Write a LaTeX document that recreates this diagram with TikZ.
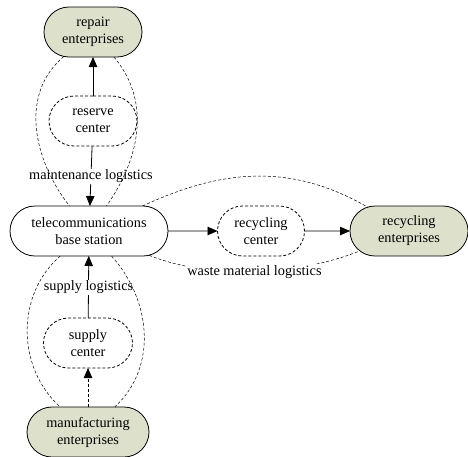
\documentclass[tikz,border=0pt]{standalone}
\usepackage{fontspec}
\setmainfont{Liberation Serif}
\usepackage{tkz-graph}
\usetikzlibrary{shapes.misc,arrows.meta}
\definecolor{entfill}{RGB}{221,224,203}

\begin{document}
\begin{tikzpicture}[x=1pt,y=1pt]
\useasboundingbox (0,0) rectangle (468,-456);
\GraphInit[vstyle=Empty]
\tikzset{VertexStyle/.style ={rounded rectangle, draw, line width=.8pt,
  inner xsep=0pt, inner ysep=0pt, minimum height=50pt, align=center,
  font=\fontsize{14.3}{17}\selectfont}}
\tikzset{CenterStyle/.style ={line width=.5pt, dash pattern=on 3pt off 2pt}}
\Vertex[x=93, y=-32, L={repair\\enterprises}, style={fill=entfill, minimum width=98pt}]{repair}
\Vertex[x=93, y=-121, L={reserve\\center}, style={CenterStyle, minimum width=88pt}]{reserve}
\Vertex[x=89, y=-231, L={telecommunications\\base station}, style={minimum width=158pt, minimum height=60pt}]{telecom}
\Vertex[x=261, y=-231, L={recycling\\center}, style={CenterStyle, minimum width=87pt}]{rcenter}
\Vertex[x=409, y=-231, L={recycling\\enterprises}, style={fill=entfill, minimum width=118pt}]{renter}
\Vertex[x=88, y=-343, L={supply\\center}, style={CenterStyle, minimum width=89pt}]{supply}
\Vertex[x=88, y=-432, L={manufacturing\\enterprises}, style={fill=entfill, minimum width=122pt}]{manuf}
\tikzset{EdgeStyle/.style ={draw, line width=.8pt, -{Triangle[length=10pt,width=8.5pt]}}}
\tikzset{LabelStyle/.style ={fill=white, inner sep=1pt, font=\fontsize{14.3}{17}\selectfont}}
\Edge(reserve)(repair)
\Edge[label=maintenance logistics](reserve)(telecom)
\Edge[label=supply logistics](supply)(telecom)
\Edge(telecom)(rcenter)
\Edge(rcenter)(renter)
\Edge[style={dash pattern=on 3pt off 2pt}](manuf)(supply)
\tikzset{EdgeStyle/.style ={draw, line width=.5pt, dash pattern=on 3pt off 2pt}}
\Edge[style={out=-140, in=128}](repair)(telecom)
\Edge[style={out=-50, in=55}](repair)(telecom)
\Edge[style={out=-139, in=138}](telecom)(manuf)
\Edge[style={out=-48, in=43}](telecom)(manuf)
\Edge[style={out=25, in=150}](telecom)(renter)
\Edge[label=waste material logistics, style={out=-22, in=-158, looseness=.8}](telecom)(renter)
\end{tikzpicture}
\end{document}
